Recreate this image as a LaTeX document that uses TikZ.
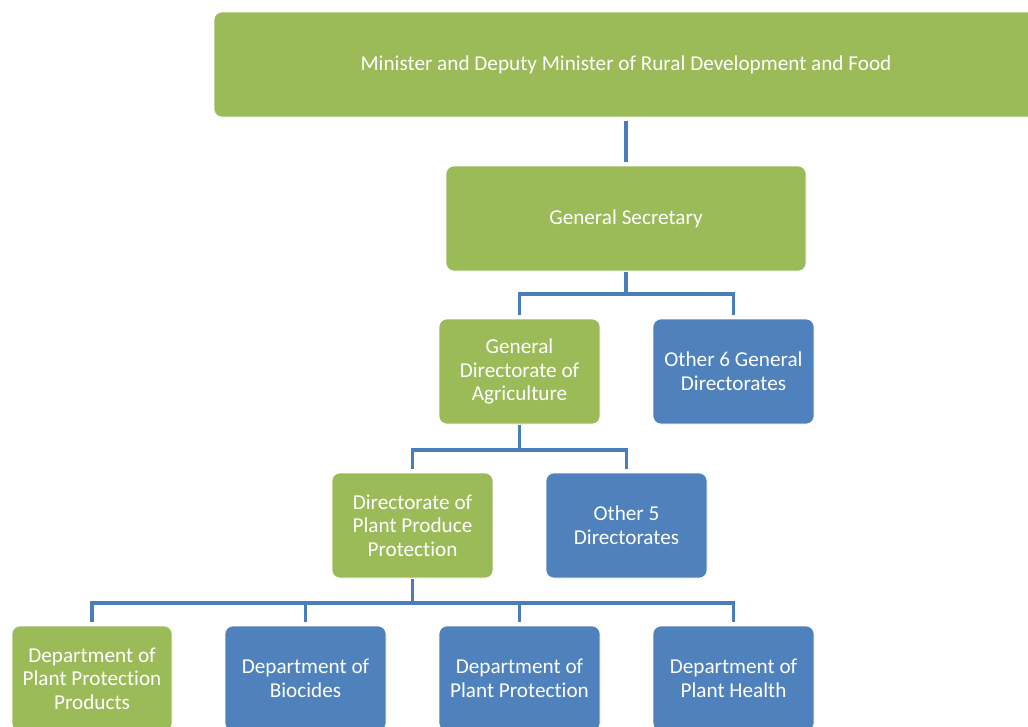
\documentclass[tikz,border=0pt]{standalone}
\usepackage{fontspec}
\setmainfont{Carlito}[Ligatures={NoCommon}]
\definecolor{boxgreen}{HTML}{9BBB59}
\definecolor{boxblue}{HTML}{4F81BD}
\definecolor{linkblue}{HTML}{4A7EBB}
\begin{document}
\begin{tikzpicture}[x=1pt,y=-1pt,
  box/.style={rounded corners=8pt, draw=white, line width=0.6pt, text=white,
    font=\fontsize{21.2}{23.6}\selectfont, align=center, inner sep=0pt,
    minimum height=105pt},
  gbox/.style={box, fill=boxgreen},
  bbox/.style={box, fill=boxblue},
  link/.style={draw=linkblue, line width=3.6pt}]
\useasboundingbox (0,0) rectangle (1028,726);
\clip (0,0) rectangle (1028,726);
% level 0
\node[gbox, minimum width=824pt] (min) at (626,64.5) {Minister and Deputy Minister of Rural Development and Food};
% level 1
\node[gbox, minimum width=360pt] (gs) at (626,218.5) {General Secretary};
% level 2
\node[gbox, minimum width=161pt] (gda) at (519.5,371.5) {General\\Directorate of\\Agriculture};
\node[bbox, minimum width=161pt] (o6) at (733.5,371.5) {Other 6 General\\Directorates};
% level 3
\node[gbox, minimum width=161pt] (dppp) at (412.5,525.5) {Directorate of\\Plant Produce\\Protection};
\node[bbox, minimum width=161pt] (o5) at (626.5,525.5) {Other 5\\Directorates};
% level 4
\node[gbox, minimum width=160pt] (d1) at (92,678.5) {Department of\\Plant Protection\\Products};
\node[bbox, minimum width=161pt] (d2) at (305.5,678.5) {Department of\\Biocides};
\node[bbox, minimum width=161pt] (d3) at (519.5,678.5) {Department of\\Plant Protection};
\node[bbox, minimum width=161pt] (d4) at (733.5,678.5) {Department of\\Plant Health};
% connectors
\draw[link] ([yshift=-4pt]min.south) -- ([yshift=4pt]gs.north);
\coordinate (j1) at (626,294);
\draw[link] ([yshift=-1pt]gs.south) -- (j1);
\draw[link] ([yshift=4pt]gda.north) |- (j1) -| ([yshift=4pt]o6.north);
\coordinate (j2) at (519.5,450);
\draw[link] ([yshift=-1pt]gda.south) -- (j2);
\draw[link] ([yshift=4pt]dppp.north) |- (j2) -| ([yshift=4pt]o5.north);
\coordinate (j3) at (412.5,603);
\draw[link] ([yshift=-1pt]dppp.south) -- (j3);
\draw[link] ([yshift=4pt]d1.north) |- (j3) -| ([yshift=4pt]d4.north);
\draw[link] ([yshift=4pt]d2.north) -- (d2.north |- j3);
\draw[link] ([yshift=4pt]d3.north) -- (d3.north |- j3);
\end{tikzpicture}
\end{document}
